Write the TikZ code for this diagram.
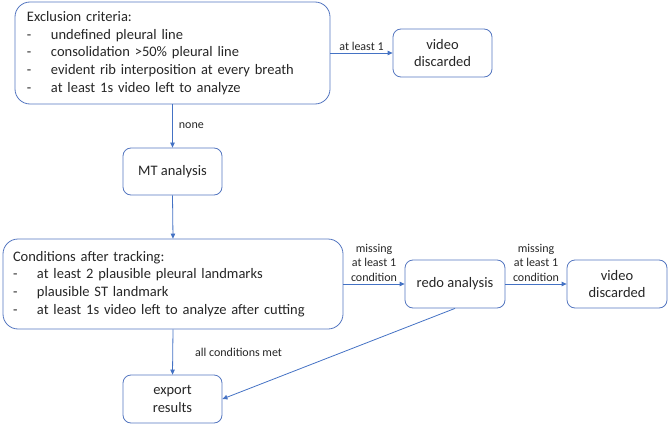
\documentclass[tikz,border=0pt]{standalone}
\usepackage{fontspec}
\setmainfont{Carlito}
\usetikzlibrary{arrows.meta}
\definecolor{boxblue}{RGB}{84,118,192}
\definecolor{arrowblue}{RGB}{68,114,196}
\definecolor{txtgray}{RGB}{38,38,38}
\newcommand{\critline}[1]{\makebox[24pt][l]{-}#1}
\begin{document}
\begin{tikzpicture}
[
    x=1pt, y=-1pt,
    box/.style={draw=boxblue, line width=0.8pt, rounded corners=8pt, text=txtgray,
        font=\fontsize{14.5}{17.7}\selectfont, align=center, inner sep=0pt,
        minimum width=99pt, minimum height=48pt},
    listbox/.style={box, align=left, rounded corners=15pt},
    flow/.style={draw=arrowblue, line width=0.8pt, -{Triangle[length=5pt,width=4.5pt]}},
    lbl/.style={text=txtgray, font=\fontsize{12}{14.7}\selectfont, align=center, inner sep=2pt}
]
    \useasboundingbox (0,0) rectangle (669,425);

    % boxes
    \node [listbox, inner xsep=12pt, text width=291pt, minimum height=102pt] (excl) at (172.5,53)
        {Exclusion criteria:\\
         \critline{undefined pleural line}\\
         \critline{consolidation >50\% pleural line}\\
         \critline{evident rib interposition at every breath}\\
         \critline{at least 1s video left to analyze}};
    \node [box] (disc1) at (442.5,53) {video\\discarded};
    \node [box, minimum height=47pt] (mt) at (172.5,171.5) {MT analysis};
    \node [listbox, inner xsep=10pt, text width=320pt, minimum height=90pt] (cond) at (173,284)
        {Conditions after tracking:\\
         \critline{at least 2 plausible pleural landmarks}\\
         \critline{plausible ST landmark}\\
         \critline{at least 1s video left to analyze after cutting}};
    \node [box, minimum width=100pt] (redo) at (455,284) {redo analysis};
    \node [box, minimum width=100pt] (disc2) at (617,284) {video\\discarded};
    \node [box] (export) at (172.5,399) {export\\results};

    % connectors
    \draw [flow] (excl.east) -- node [lbl, above] (l1) {at least 1} (disc1.west);
    \draw [flow] (excl.south) -- node [lbl, right=4pt] (l2) {none} (mt.north);
    \draw [flow] (mt.south) -- (cond.north);
    \draw [flow] (cond.east) -- node [lbl, above] (l3) {missing\\at least 1\\condition} (redo.west);
    \draw [flow] (redo.east) -- node [lbl, above] (l4) {missing\\at least 1\\condition} (disc2.west);
    \draw [flow] (cond.south) -- node [lbl, right=20pt] (l5) {all conditions met} (export.north);
    \draw [flow] (redo.south) -- (export.east);
\end{tikzpicture}
\end{document}
